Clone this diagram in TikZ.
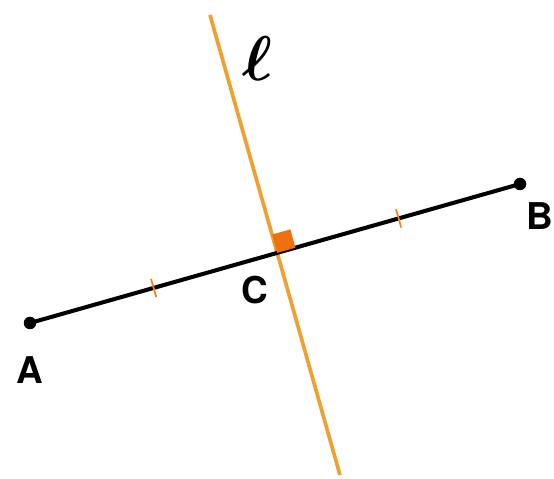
\documentclass[tikz,border=0pt]{standalone}
\usepackage{fix-cm}
\usepackage{fontspec}
\setsansfont{TeX Gyre Heros}
\usetikzlibrary{calc}
\definecolor{lineorange}{RGB}{238,160,48}
\definecolor{markorange}{RGB}{240,112,16}

\begin{document}
\begin{tikzpicture}[
    every node/.style={font=\sffamily\bfseries\fontsize{21}{21}\selectfont},
    segment/.style={line width=2.3pt, black},
    bisector/.style={line width=2.1pt, lineorange},
    endpt/.style={circle, fill=black, inner sep=0pt, minimum size=0.25cm},
    tickmark/.style={line width=1pt, markorange!60!lineorange},
]
\useasboundingbox (0,0) rectangle (11.08,9.58);

% ── Points ────────────────────────────────────────────────────
\coordinate (A)  at (0.6,3.12);
\coordinate (B)  at (10.4,5.9);
\coordinate (l1) at (4.2,9.28);
\coordinate (l2) at (6.8,0.08);
\coordinate (C)  at (intersection of A--B and l1--l2);

% ── Lines ─────────────────────────────────────────────────────
\draw[bisector] (l1) -- (l2);
\draw[segment]  (A) -- (B);

% right angle mark
\fill[markorange] (C) -- ($(C)!0.38cm!(B)$) -- ($(C)!0.38cm!(B)!0.38cm!90:(B)$)
    -- ($(C)!0.38cm!(l1)$) -- cycle;

% equal-length ticks
\path (A) -- (C) coordinate[midway] (mAC);
\path (C) -- (B) coordinate[midway] (mCB);
\draw[tickmark] ($(mAC)!0.19cm!90:(C)$) -- ($(mAC)!0.19cm!-90:(C)$);
\draw[tickmark] ($(mCB)!0.19cm!90:(B)$) -- ($(mCB)!0.19cm!-90:(B)$);

\node[endpt] (dA) at (A) {};
\node[endpt] (dB) at (B) {};

% ── Labels ────────────────────────────────────────────────────
\node (labA) at (0.6,2.18) {A};
\node (labB) at (10.8,5.26) {B};
\node (labC) at (5.1,3.78) {C};
\node[font=\fontsize{36}{36}\selectfont\boldmath] (labl) at (5.15,8.4) {$\ell$};
\end{tikzpicture}
\end{document}
